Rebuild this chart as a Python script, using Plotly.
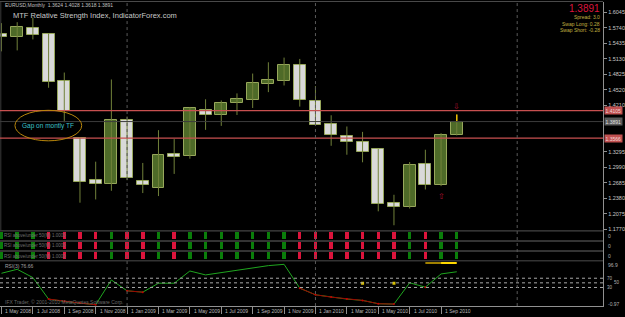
import plotly.graph_objects as go

W, H = 625, 317
def py(p):
    return 1 - p / H
def px(p):
    return p / W

# ---------------- data ----------------
months = ["May 2008", "Jun 2008", "Jul 2008", "Aug 2008", "Sep 2008", "Oct 2008",
          "Nov 2008", "Dec 2008", "Jan 2009", "Feb 2009", "Mar 2009", "Apr 2009",
          "May 2009", "Jun 2009", "Jul 2009", "Aug 2009", "Sep 2009", "Oct 2009",
          "Nov 2009", "Dec 2009", "Jan 2010", "Feb 2010", "Mar 2010", "Apr 2010",
          "May 2010", "Jun 2010", "Jul 2010", "Aug 2010", "Sep 2010", "Oct 2010"]
opens = [1.5626, 1.5567, 1.5744, 1.5607, 1.4700, 1.3566, 1.2749, 1.2671, 1.3923, 1.2729,
         1.2592, 1.3246, 1.3219, 1.4113, 1.4021, 1.4256, 1.4315, 1.4628, 1.4694, 1.5008,
         1.4289, 1.3853, 1.3610, 1.3493, 1.3344, 1.2287, 1.2201, 1.3050, 1.2651, 1.3624]
highs = [1.5830, 1.5849, 1.5939, 1.5626, 1.4857, 1.3580, 1.3101, 1.4720, 1.3990, 1.3076,
         1.3722, 1.3546, 1.4170, 1.4330, 1.4308, 1.4446, 1.4837, 1.5059, 1.5151, 1.5125,
         1.4589, 1.4015, 1.3794, 1.3688, 1.3350, 1.2449, 1.3095, 1.3336, 1.3663, 1.4028]
lows = [1.5274, 1.5293, 1.5509, 1.4557, 1.3878, 1.2293, 1.2357, 1.2528, 1.2737, 1.2483,
        1.2424, 1.2860, 1.3160, 1.3728, 1.3806, 1.4021, 1.4158, 1.4471, 1.4602, 1.4186,
        1.3830, 1.3414, 1.3238, 1.3089, 1.2123, 1.1849, 1.2178, 1.2553, 1.2620, 1.3618]
closes = [1.5556, 1.5751, 1.5601, 1.4667, 1.4105, 1.2710, 1.2671, 1.3923, 1.2788, 1.2645,
          1.3232, 1.3199, 1.4152, 1.4021, 1.4250, 1.4328, 1.4642, 1.4720, 1.5008, 1.4315,
          1.3833, 1.3618, 1.3493, 1.3285, 1.2273, 1.2209, 1.3036, 1.2651, 1.3624, 1.3891]

# RSI above/under 50 signal per bar (G = above, R = under)
signal = ["G", "G", "G", "R", "R", "R", "R", "G", "R", "R", "G", "R", "G", "G", "G",
          "G", "G", "G", "G", "R", "R", "R", "R", "R", "R", "R", "G", "R", "G", "G"]
rsi = [73.3, 82.2, 63.7, 15.6, 10.4, 6.7, 2.9, 58.4, 34.0, 31.1, 51.1, 51.1, 78.4, 69.6,
       74.8, 80.7, 86.7, 90.4, 93.3, 40.0, 25.2, 20.0, 15.6, 12.6, 5.2, 4.4, 52.0, 42.2,
       71.8, 76.66]
htf_idx = [27, 28, 29]
htf_val = [96.2, 96.2, 96.2]
dot_idx = [23, 25]
dot_val = [51.1, 51.1]
rsi_levels = [70, 50, 30]
rsi_scale_labels = ["96.9", "-0.97"]

tick_idx = list(range(0, 29, 2))
tick_labels = ["1 May 2008", "1 Jul 2008", "1 Sep 2008", "1 Nov 2008", "1 Jan 2009",
               "1 Mar 2009", "1 May 2009", "1 Jul 2009", "1 Sep 2009", "1 Nov 2009",
               "1 Jan 2010", "1 Mar 2010", "1 May 2010", "1 Jul 2010", "1 Sep 2010"]
price_ticks = [1.6045, 1.5740, 1.5435, 1.5130, 1.4825, 1.4520, 1.4210,
               1.3295, 1.2990, 1.2685, 1.2380, 1.2075, 1.1770]
price_tick_text = ["1.6045", "1.5740", "1.5435", "1.5130", "1.4825", "1.4520", "1.4210",
                   "1.3295", "1.2990", "1.2685", "1.2380", "1.2075", "1.1770"]
gap_upper = 1.4105
gap_lower = 1.3566
bid = 1.3891
separators = [8, 20, 32.85]
row_labels = ["RSI above/under 50(M) 1.0000"] * 3
row_values = ["0", "0", "0"]

# ---------------- styling ----------------
FONT = "Liberation Sans"
BULL_FILL = "#4E6A28"
BEAR_FILL = "#D9D9D9"
OUTLINE = "#98A85C"
WICK = "#71813A"
GREEN = "#0A7D0A"
RED = "#DC143C"

n = len(opens)
idx = list(range(n))
XR = [-0.095, 38.32]
XD = [0, 605 / W]

fig = go.Figure()

# wicks
wx, wy = [], []
for i in idx:
    wx += [i, i, None]
    wy += [lows[i], highs[i], None]
fig.add_trace(go.Scatter(x=wx, y=wy, mode="lines", line=dict(color=WICK, width=1),
                         hoverinfo="skip", xaxis="x", yaxis="y"))
# yellow wick on current bar
fig.add_trace(go.Scatter(x=[n - 1, n - 1], y=[max(opens[-1], closes[-1]), highs[-1]],
                         mode="lines", line=dict(color="#E8B800", width=1.5),
                         hoverinfo="skip", xaxis="x", yaxis="y"))
# bodies
base = [min(o, c) for o, c in zip(opens, closes)]
height = [max(abs(c - o), 0.0008) for o, c in zip(opens, closes)]
fill = [BULL_FILL if c > o else BEAR_FILL for o, c in zip(opens, closes)]
fig.add_trace(go.Bar(x=idx, y=height, base=base, width=0.76,
                     marker=dict(color=fill, line=dict(color=OUTLINE, width=1)),
                     xaxis="x", yaxis="y", hoverinfo="skip"))

# indicator rows
bx, bb, bc = [], [], []
for r in range(3):
    for i in idx:
        bx.append(i)
        bb.append(r + 0.12)
        bc.append(GREEN if signal[i] == "G" else RED)
fig.add_trace(go.Bar(x=bx, y=[0.76] * len(bx), base=bb, width=0.22,
                     marker=dict(color=bc, line=dict(width=0)),
                     xaxis="x2", yaxis="y2", hoverinfo="skip"))

# RSI line (green) with red overlay under 50
fig.add_trace(go.Scatter(x=idx, y=rsi, mode="lines", line=dict(color="#1FA51F", width=1),
                         xaxis="x3", yaxis="y3", hoverinfo="skip"))
red_y = [v if v < 50 else None for v in rsi]
fig.add_trace(go.Scatter(x=idx, y=red_y, mode="lines+markers",
                         line=dict(color="#A00000", width=1),
                         marker=dict(size=2, color="#C00000"),
                         xaxis="x3", yaxis="y3", hoverinfo="skip", connectgaps=False))
fig.add_trace(go.Scatter(x=htf_idx[:2], y=htf_val[:2], mode="lines",
                         line=dict(color="#A08000", width=2),
                         xaxis="x3", yaxis="y3", hoverinfo="skip"))
fig.add_trace(go.Scatter(x=htf_idx[1:], y=htf_val[1:], mode="lines",
                         line=dict(color="#FFD800", width=2),
                         xaxis="x3", yaxis="y3", hoverinfo="skip"))
fig.add_trace(go.Scatter(x=dot_idx, y=dot_val, mode="markers",
                         marker=dict(size=3, color="#D8C000", symbol="square"),
                         xaxis="x3", yaxis="y3", hoverinfo="skip"))

axis_common = dict(showgrid=False, zeroline=False)
fig.update_layout(
    width=W, height=H, margin=dict(l=0, r=0, t=0, b=0),
    paper_bgcolor="#000000", plot_bgcolor="#000000",
    showlegend=False, barmode="overlay", bargap=0,
    font=dict(family=FONT, color="#C0C0C0", size=6),
    xaxis=dict(domain=XD, range=XR, anchor="y", visible=False, **axis_common),
    yaxis=dict(domain=[py(232), py(2)], range=[1.17447, 1.62466], side="right",
               anchor="x", tickvals=price_ticks, ticktext=price_tick_text,
               tickfont=dict(size=5.5, color="#C8C8C8", family=FONT),
               ticks="outside", ticklen=3, tickcolor="#909090",
               showline=True, linecolor="#909090", linewidth=1, **axis_common),
    xaxis2=dict(domain=XD, range=XR, anchor="y2", visible=False, **axis_common),
    yaxis2=dict(domain=[py(263.2), py(231.8)], range=[-0.05, 3.05], side="right",
                anchor="x2", showticklabels=False, showline=True, linecolor="#909090",
                **axis_common),
    xaxis3=dict(domain=XD, range=XR, anchor="y3", tickvals=tick_idx,
                showticklabels=False, ticks="outside", ticklen=7, tickcolor="#909090",
                showline=True, linecolor="#909090", **axis_common),
    yaxis3=dict(domain=[py(308), py(263)], range=[0, 100], side="right", anchor="x3",
                showticklabels=False, showline=True, linecolor="#909090", **axis_common),
    yaxis4=dict(domain=[py(308), py(263)], range=[-50.4, 143.1], overlaying="y3",
                visible=False, **axis_common),
)

shapes = []
# top border
shapes.append(dict(type="line", xref="paper", yref="paper", x0=0, x1=px(605),
                   y0=py(1.5), y1=py(1.5), line=dict(color="#4A4A4A", width=1)))
# left border
shapes.append(dict(type="line", xref="paper", yref="paper", x0=px(0.8), x1=px(0.8),
                   y0=py(232), y1=py(2), line=dict(color="#3A3A3A", width=1)))
# gap lines and bid line
for v, c, w in [(gap_upper, "#C85050", 1.3), (gap_lower, "#C85050", 1.3), (bid, "#3C3C3C", 1)]:
    shapes.append(dict(type="line", xref="paper", yref="y", x0=0, x1=px(605), y0=v, y1=v,
                       line=dict(color=c, width=w)))
# indicator row separators
for r in range(4):
    shapes.append(dict(type="line", xref="paper", yref="y2", x0=0, x1=px(605), y0=r, y1=r,
                       line=dict(color="#444444", width=1.5)))
# rsi level dotted lines
for lv in rsi_levels:
    shapes.append(dict(type="line", xref="paper", yref="y4", x0=0, x1=px(605), y0=lv, y1=lv,
                       line=dict(color="#A8A8A8", width=1, dash="dot")))
# period separators
for s in separators:
    shapes.append(dict(type="line", xref="x", yref="paper", x0=s, x1=s, y0=py(308),
                       y1=py(2), line=dict(color="#5A5A5A", width=1, dash="dot")))
# ellipse
shapes.append(dict(type="circle", xref="x", yref="y", x0=0.857, x1=5.11, y0=1.3512,
                   y1=1.4113, line=dict(color="#B8860B", width=1)))
fig.update_layout(shapes=shapes)

ann = []
def txt(x, y, t, size, color, xanchor="left", yanchor="middle", **kw):
    d = dict(x=x, y=y, text=t, showarrow=False, xanchor=xanchor, yanchor=yanchor,
             font=dict(size=size, color=color, family=kw.pop("family", FONT)),
             xref=kw.pop("xref", "paper"), yref=kw.pop("yref", "paper"))
    d.update(kw)
    ann.append(d)

txt(px(3), py(5), "EURUSD,Monthly  %.4f %.4f %.4f %.4f" % (opens[-1], highs[-1], lows[-1], closes[-1]),
    5, "#C0C0C0")
txt(px(11), py(15.5), "MTF Relative Strength Index, IndicatorForex.com", 7.5, "#C8C8C8")
txt(px(604), py(8.7), "%.4f" % closes[-1], 10, "#DC143C", xanchor="right")
txt(px(604), py(17.3), "Spread: 3.0", 5, "#C0B040", xanchor="right")
txt(px(604), py(23.8), "Swap Long: 0.28", 5, "#C0B040", xanchor="right")
txt(px(604), py(29.8), "Swap Short: -0.28", 5, "#C0B040", xanchor="right")
# ellipse text
txt(2.98, 1.3812, "Gap on montly TF", 6.5, "#3CC0C8", xanchor="center", xref="x", yref="y")
# arrows
txt(n - 1, highs[-1], "\u21e9", 8, "#B01030", xanchor="center", yanchor="bottom",
    xref="x", yref="y", yshift=2, family="DejaVu Sans")
txt(n - 2, lows[-2], "\u21e7", 8, "#B01030", xanchor="center", yanchor="top",
    xref="x", yref="y", yshift=-4, family="DejaVu Sans")
# boxed price labels
for v, bg, fc in [(gap_upper, "#C05050", "#F2D8D8"), (bid, "#5A5A5A", "#E0E0E0"),
                  (gap_lower, "#C05050", "#F2D8D8")]:
    txt(px(606), v, "%.4f" % v, 5, fc, yref="y", bgcolor=bg, borderpad=0.5)
# indicator row labels
for r in range(3):
    txt(px(2), 2.5 - r, row_labels[r], 4.5, "#707070", xref="paper", yref="y2")
    txt(px(608), 2.5 - r, row_values[r], 5, "#B0B0B0", yref="y2")
# RSI labels
txt(px(3), py(267.5), "RSI(3) %.2f" % rsi[-1], 5, "#A0A0A0")
txt(px(3), py(304), "IFX Trader, \u00a9 2001-2010 MetaQuotes Software Corp.", 5, "#6A6A6A")
txt(px(608), py(266.5), rsi_scale_labels[0], 5, "#B0B0B0")
for k, lv in enumerate(rsi_levels):
    txt(px(607 + 7 * (k % 2)), lv, str(lv), 4.5, "#B0B0B0", yref="y4")
txt(px(608), py(305.5), rsi_scale_labels[1], 5, "#B0B0B0")
# bottom date labels
for i, lab in zip(tick_idx, tick_labels):
    txt(i, py(313), lab, 5, "#B8B8B8", xref="x3", xshift=2)
fig.update_layout(annotations=ann)

fig.write_html("out.html")
